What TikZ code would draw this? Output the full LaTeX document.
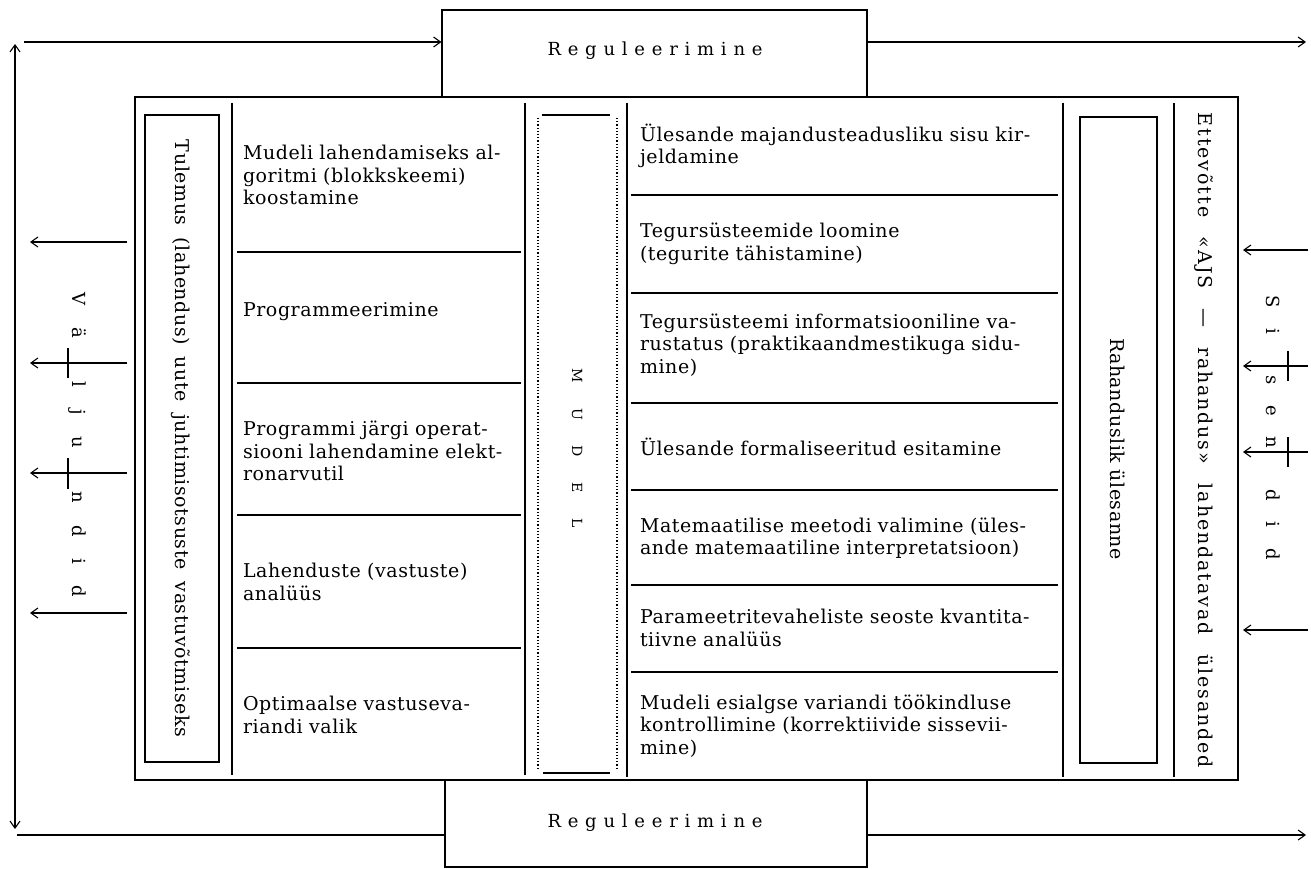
\documentclass[tikz,border=0pt]{standalone}
\usepackage{fontspec}
\setmainfont{DejaVu Serif}
\usetikzlibrary{arrows.meta}
\newcommand\jL[1]{\makebox[269pt][s]{#1}}
\newcommand\jR[1]{\makebox[413pt][s]{#1}}
\begin{document}
\begin{tikzpicture}[x=1pt,y=-1pt,line width=1.1pt,
  txt/.style={inner sep=0pt, font=\fontsize{19}{22.5}\selectfont\addfontfeatures{LetterSpace=3}},
  ltxt/.style={txt, text width=269pt, align=left},
  rtxt/.style={txt, text width=413pt, align=left},
  rot/.style={inner sep=0pt, rotate=-90},
  box/.style={draw, inner sep=0pt, line width=1.1pt},
  arr/.style={-{Straight Barb[length=7pt,width=10pt]}},
  dotln/.style={line width=1.2pt, dash pattern=on 1.2pt off 2pt},
  tick/.style={line width=1.1pt}]
\useasboundingbox (0,0) rectangle (1311,869);

% main frame and the two regulation boxes
\node[box, minimum width=1103pt, minimum height=683pt] (frame) at (686.5,438.5) {};
\node[box, minimum width=425pt, minimum height=87pt] (reg1) at (654.5,53.5) {};
\node[box, minimum width=422pt, minimum height=87pt] (reg2) at (656,823.5) {};
\node[inner sep=0pt, font=\fontsize{18}{20}\selectfont] (reg1t) at (655,51) {\makebox[215pt][s]{R\hfill e\hfill g\hfill u\hfill l\hfill e\hfill e\hfill r\hfill i\hfill m\hfill i\hfill n\hfill e}};
\node[inner sep=0pt, font=\fontsize{18}{20}\selectfont] (reg2t) at (655,823) {\makebox[215pt][s]{R\hfill e\hfill g\hfill u\hfill l\hfill e\hfill e\hfill r\hfill i\hfill m\hfill i\hfill n\hfill e}};

% outer connectors
\coordinate (tl) at (24,42);
\coordinate (tr) at (1306,42);
\coordinate (bl) at (17,835);
\coordinate (br) at (1306,835);
\coordinate (vt) at (15,44);
\coordinate (vb) at (15,829);
\draw[arr] (tl) -- (tl -| reg1.west);
\draw[arr] (tr -| reg1.east) -- (tr);
\draw (bl) -- (bl -| reg2.west);
\draw[arr] (br -| reg2.east) -- (br);
\draw[{Straight Barb[length=7pt,width=10pt]}-{Straight Barb[length=7pt,width=10pt]}] (vb) -- (vt);

% column rules
\draw (232,103) -- (232,775);
\draw (525,103) -- (525,775);
\draw (627,103) -- (627,777);
\draw (1063,103) -- (1063,777);
\draw (1174,103) -- (1174,777);

% left list separators
\foreach \yy in {252,383,515,648} \draw (237,\yy) -- (521,\yy);
% right list separators
\foreach \yy in {195,293,403,490,585,672} \draw (631,\yy) -- (1058,\yy);

% inner boxes
\node[box, minimum width=74pt, minimum height=647pt] (tul) at (182,438.5) {};
\node[box, minimum width=77pt, minimum height=646pt] (rah) at (1118.5,440) {};
\node[rot, font=\fontsize{19}{20}\selectfont\addfontfeatures{LetterSpace=3}] (tult) at (181,438.5) {\makebox[597pt][s]{Tulemus (lahendus) uute juhtimisotsuste vastuvõtmiseks}};
\node[rot, font=\fontsize{19}{20}\selectfont\addfontfeatures{LetterSpace=3}] (raht) at (1118,449) {\makebox[222pt][s]{Rahanduslik ülesanne}};
\node[rot, font=\fontsize{19}{20}\selectfont\addfontfeatures{LetterSpace=10}] (ett) at (1204,440.5) {\makebox[655pt][s]{Ettevõtte «AJS — rahandus» lahendatavad ülesanded}};

% MUDEL box
\draw (542,115) -- (610,115);
\draw (543,773) -- (610,773);
\draw[dotln] (538,118) -- (538,768);
\draw[dotln] (617,118) -- (617,768);
\node[rot, font=\fontsize{14}{15}\selectfont] (mudel) at (577,448) {\makebox[160pt][s]{M\hfill U\hfill D\hfill E\hfill L}};

% left list
\node[ltxt] (l1) at (377.5,175) {\jL{Mudeli lahendamiseks al-}\\\jL{goritmi (blokkskeemi)}\\koostamine};
\node[ltxt] (l2) at (377.5,312) {Programmeerimine};
\node[ltxt] (l3) at (377.5,451) {\jL{Programmi järgi operat-}\\\jL{siooni lahendamine elekt-}\\ronarvutil};
\node[ltxt] (l4) at (377.5,582) {\jL{Lahenduste (vastuste)}\\analüüs};
\node[ltxt] (l5) at (377.5,715) {\jL{Optimaalse vastuseva-}\\riandi valik};

% right list
\node[rtxt] (r1) at (846.5,146) {\jR{Ülesande majandusteadusliku sisu kir-}\\jeldamine};
\node[rtxt] (r2) at (846.5,244) {Tegursüsteemide loomine\\(tegurite tähistamine)};
\node[rtxt] (r3) at (846.5,345) {\jR{Tegursüsteemi informatsiooniline va-}\\\jR{rustatus (praktikaandmestikuga sidu-}\\mine)};
\node[rtxt] (r4) at (846.5,446.5) {\makebox[377pt][s]{Ülesande formaliseeritud esitamine}};
\node[rtxt] (r5) at (846.5,538) {\jR{Matemaatilise meetodi valimine (üles-}\\ande matemaatiline interpretatsioon)};
\node[rtxt] (r6) at (846.5,628) {\jR{Parameetritevaheliste seoste kvantita-}\\tiivne analüüs};
\node[rtxt] (r7) at (846.5,726) {\jR{Mudeli esialgse variandi töökindluse}\\\jR{kontrollimine (korrektiivide sissevii-}\\mine)};

% outputs (left)
\foreach \yy/\nm in {242/o1,363/o2,473/o3,613/o4} {
  \coordinate (\nm a) at (127,\yy);
  \coordinate (\nm b) at (30,\yy);
  \draw[arr] (\nm a) -- (\nm b);
}
\draw[tick] (68,348) -- (68,378);
\draw[tick] (68,458) -- (68,489);
\node[rot, font=\fontsize{18}{20}\selectfont] (valj) at (77,445) {\makebox[305pt]{V\hfill ä\hfill\hfill l\hfill j\hfill u\hfill\hfill n\hfill d\hfill i\hfill d}};

% inputs (right)
\foreach \yy/\nm in {250/i1,366/i2,452/i3,630/i4} {
  \coordinate (\nm a) at (1308,\yy);
  \coordinate (\nm b) at (1243,\yy);
  \draw[arr] (\nm a) -- (\nm b);
}
\draw[tick] (1288,351) -- (1288,381);
\draw[tick] (1288,437) -- (1288,467);
\node[rot, font=\fontsize{18}{20}\selectfont] (sis) at (1273,427.5) {\makebox[265pt]{S\hfill i\hfill\hfill s\hfill e\hfill n\hfill\hfill d\hfill i\hfill d}};
\end{tikzpicture}
\end{document}
